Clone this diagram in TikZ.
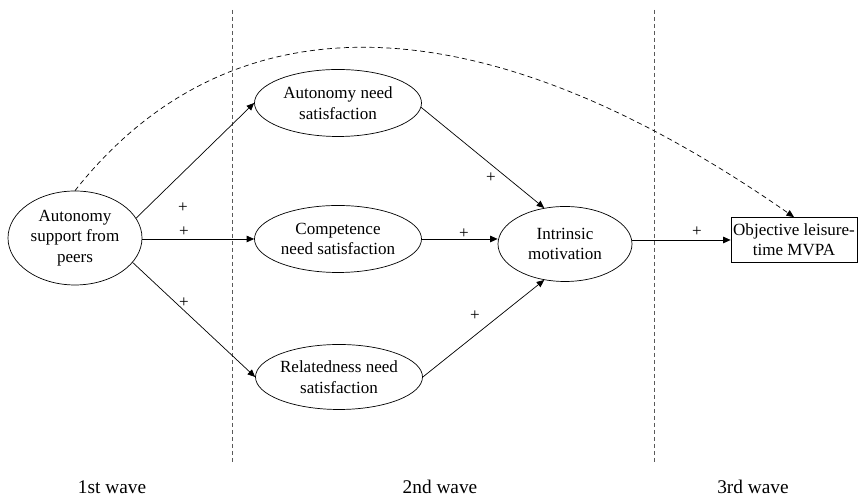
\documentclass[tikz,border=0pt]{standalone}
\usepackage{fontspec}
\setmainfont{Liberation Serif}
\usetikzlibrary{arrows.meta, shapes.geometric}
\tikzset{
    latent/.style={draw, ellipse, thin, inner sep=0pt, align=center,
        font=\rmfamily\fontsize{9.7pt}{11.6pt}\selectfont},
    observed/.style={draw, rectangle, thin, inner sep=0pt, align=center,
        minimum width=2.52cm, minimum height=0.9cm,
        font=\rmfamily\fontsize{9.7pt}{11.6pt}\selectfont},
    effect/.style={thin, -{Triangle[length=1.5mm, width=1.3mm]}},
    sign/.style={font=\rmfamily\fontsize{9.7pt}{11.6pt}\selectfont},
    wave/.style={font=\rmfamily\fontsize{11pt}{13pt}\selectfont},
}
\begin{document}
\begin{tikzpicture}
    \useasboundingbox (0, 0) rectangle (17.16, 9.94);
    % waves
    \foreach \x in {4.64, 13.08} {
        \draw[gray!70!black, dash pattern=on 0.08cm off 0.06cm] (\x, 9.74) -- (\x, 0.66);
    };
    \node[wave] (w1) at (2.24, 0.20) {1st wave};
    \node[wave] (w2) at (8.80, 0.20) {2nd wave};
    \node[wave] (w3) at (15.06, 0.20) {3rd wave};

    \node[latent, minimum width=2.68cm, minimum height=1.88cm] (peers) at (1.50, 5.18) {Autonomy\\support from\\peers};
    \node[latent, minimum width=3.34cm, minimum height=1.34cm] (aut) at (6.76, 7.88) {Autonomy need\\satisfaction};
    \node[latent, minimum width=3.34cm, minimum height=1.34cm] (comp) at (6.76, 5.16) {Competence\\need satisfaction};
    \node[latent, minimum width=3.34cm, minimum height=1.30cm] (rel) at (6.78, 2.40) {Relatedness need\\satisfaction};
    \node[latent, minimum width=2.68cm, minimum height=1.50cm] (intr) at (11.30, 5.06) {Intrinsic\\motivation};
    \node[observed] (mvpa) at (15.88, 5.14) {Objective leisure-\\time MVPA};

    \draw[effect] (peers.18) -- (aut.west);
    \draw[effect] (peers.east |- comp.west) -- (comp.west);
    \draw[effect] (peers.-23) -- (rel.west);
    \draw[effect] (aut.-3) -- (intr.120);
    \draw[effect] (comp.east) -- (intr.west |- comp.east);
    \draw[effect] (rel.east) -- (intr.-120);
    \draw[effect] (intr.east |- mvpa.west) -- (mvpa.west);
    \draw[effect, dash pattern=on 0.1cm off 0.07cm] (peers.north) .. controls (4.40, 9.80) and (9.20, 10.25) .. (mvpa.north);

    \foreach \x/\y [count=\i] in {3.66/5.78, 3.68/5.30, 3.68/3.88, 9.82/6.38, 9.28/5.26, 9.50/3.62, 13.94/5.30} {
        \node[sign] (plus\i) at (\x, \y) {+};
    }
\end{tikzpicture}
\end{document}
